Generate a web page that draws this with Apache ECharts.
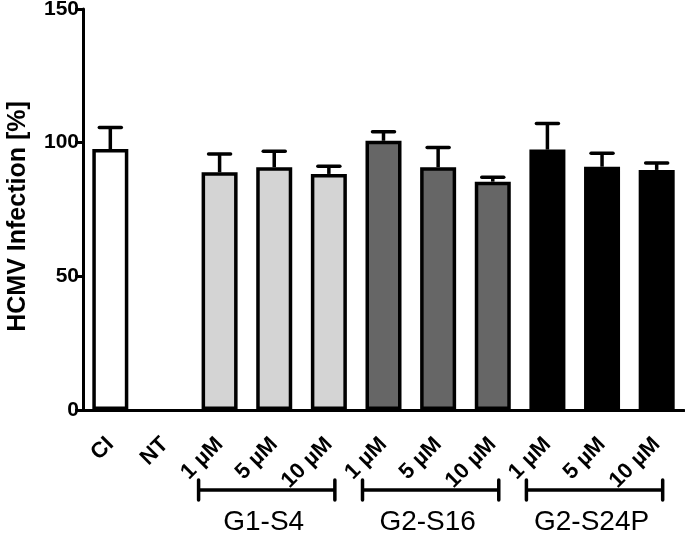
<!DOCTYPE html>
<html><head><meta charset="utf-8">
<script src="https://cdn.jsdelivr.net/npm/echarts@6/dist/echarts.min.js"></script>
<style>html,body{margin:0;padding:0;background:#fff}#c{width:685px;height:536px}</style>
</head><body><div id="c"></div>
<script>
// ---- data ----
const categories = ['CI','NT','1 µM','5 µM','10 µM','1 µM','5 µM','10 µM','1 µM','5 µM','10 µM'];
const groupOf    = ['CI','NT','G1-S4','G1-S4','G1-S4','G2-S16','G2-S16','G2-S16','G2-S24P','G2-S24P','G2-S24P'];
const means      = [97.6, 0, 88.9, 90.8, 88.3, 100.7, 90.8, 85.4, 97.4, 91.0, 89.8];
const errors     = [8.1, 0, 6.9, 6.0, 2.9, 3.4, 7.4, 1.7, 9.8, 5.0, 2.6];
const groupNames = ['G1-S4','G2-S16','G2-S24P'];
const yTicks     = [0, 50, 100, 150];

// ---- styles ----
const FONT = '"Liberation Sans", Arial, Helvetica, sans-serif';
const groupColor = {'CI':'#ffffff','NT':'#ffffff','G1-S4':'#d4d4d4','G2-S16':'#666666','G2-S24P':'#000000'};

const chart = echarts.init(document.getElementById('c'), null, {renderer:'canvas'});

const barData = means.map((v,i)=>({
  value:v,
  itemStyle:{color:groupColor[groupOf[i]], borderWidth: v > 0 ? 3.5 : 0}
}));
const errData = means.map((v,i)=>[i, v, v + errors[i]]);

chart.setOption({
  animation:false,
  backgroundColor:'#fff',
  grid:{left:83, right:1, top:9, bottom:126, containLabel:false, outerBoundsMode:'none'},
  xAxis:{
    type:'category', data:categories,
    axisLine:{lineStyle:{color:'#000', width:3}},
    axisTick:{alignWithLabel:true, length:10, lineStyle:{color:'#000', width:3}},
    axisLabel:{rotate:45, margin:31, color:'#000', fontFamily:FONT, fontWeight:'bold', fontSize:22, interval:0}
  },
  yAxis:{
    type:'value', min:yTicks[0], max:yTicks[yTicks.length-1], interval:yTicks[1]-yTicks[0],
    name:'HCMV Infection [%]', nameLocation:'middle', nameGap:52,
    nameTextStyle:{color:'#000', fontFamily:FONT, fontWeight:'bold', fontSize:25, padding:[0,0,0,-14]},
    axisLine:{show:true, lineStyle:{color:'#000', width:3}},
    axisTick:{show:true, length:8, lineStyle:{color:'#000', width:3}},
    axisLabel:{color:'#000', fontFamily:FONT, fontWeight:'bold', fontSize:21, margin:4},
    splitLine:{show:false}
  },
  series:[
    {
      type:'bar', data:barData, barWidth:36, z:2,
      itemStyle:{borderColor:'#000', borderWidth:3.5}
    },
    {
      type:'custom', z:3, data:errData, encode:{x:0, y:[1,2]},
      renderItem:function(params, api){
        const x = api.value(0), m = api.value(1), hi = api.value(2);
        if (!(hi > m)) return null;
        const p0 = api.coord([x, m]);
        const p1 = api.coord([x, hi]);
        const cw = 11;
        return {type:'group', children:[
          {type:'line', shape:{x1:p0[0], y1:p0[1], x2:p1[0], y2:p1[1]}, style:{stroke:'#000', lineWidth:3.5}},
          {type:'line', shape:{x1:p1[0]-cw, y1:p1[1], x2:p1[0]+cw, y2:p1[1]}, style:{stroke:'#000', lineWidth:3.5, lineCap:'round'}}
        ]};
      }
    }
  ]
});

// group brackets under the axis labels, positioned from the category scale
const graphics = [];
groupNames.forEach(g=>{
  const idx = groupOf.map((v,i)=>v===g?i:-1).filter(i=>i>=0);
  const xa = chart.convertToPixel({xAxisIndex:0}, idx[0]);
  const xb = chart.convertToPixel({xAxisIndex:0}, idx[idx.length-1]);
  const l = xa - 21, r = xb + 6, y = 490;
  graphics.push({type:'line', shape:{x1:l, y1:y, x2:r, y2:y}, style:{stroke:'#000', lineWidth:3.5}});
  graphics.push({type:'line', shape:{x1:l, y1:y-10, x2:l, y2:y+10}, style:{stroke:'#000', lineWidth:3.5, lineCap:'round'}});
  graphics.push({type:'line', shape:{x1:r, y1:y-10, x2:r, y2:y+10}, style:{stroke:'#000', lineWidth:3.5, lineCap:'round'}});
  graphics.push({type:'text', x:(l+r)/2 - 3, y:522, style:{text:g, fill:'#000', font:'28px ' + FONT, textAlign:'center', textVerticalAlign:'middle'}});
});
chart.setOption({graphic:graphics});
</script>
</body></html>
